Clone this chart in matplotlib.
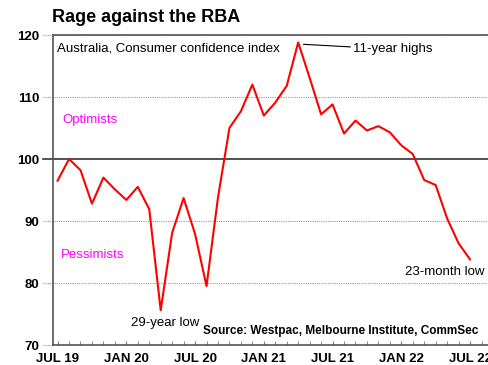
import matplotlib
matplotlib.use("Agg")
import matplotlib.pyplot as plt
from matplotlib.ticker import FixedLocator, MultipleLocator

plt.rcParams['font.family'] = ['Liberation Sans', 'DejaVu Sans']

months = ["JUL 19", "AUG 19", "SEP 19", "OCT 19", "NOV 19", "DEC 19",
          "JAN 20", "FEB 20", "MAR 20", "APR 20", "MAY 20", "JUN 20",
          "JUL 20", "AUG 20", "SEP 20", "OCT 20", "NOV 20", "DEC 20",
          "JAN 21", "FEB 21", "MAR 21", "APR 21", "MAY 21", "JUN 21",
          "JUL 21", "AUG 21", "SEP 21", "OCT 21", "NOV 21", "DEC 21",
          "JAN 22", "FEB 22", "MAR 22", "APR 22", "MAY 22", "JUN 22",
          "JUL 22"]
confidence = [96.5, 100.0, 98.2, 92.8, 97.0, 95.1,
              93.4, 95.5, 91.9, 75.6, 88.1, 93.7,
              87.9, 79.5, 93.8, 105.0, 107.7, 112.0,
              107.0, 109.1, 111.8, 118.8, 113.1, 107.2,
              108.8, 104.1, 106.2, 104.6, 105.3, 104.3,
              102.2, 100.8, 96.6, 95.8, 90.4, 86.4,
              83.8]
y_ticks = [70, 80, 90, 100, 110, 120]

fig = plt.figure(figsize=(4.89, 3.65), dpi=100)
ax = fig.add_axes([53/489, 20/365, 1 - 53/489 + 0.01, 310/365])

x = list(range(len(months)))
ax.plot(x, confidence, color='#ff0000', lw=1.5, zorder=3)

ax.set_xlim(-0.4, 37.7 + 0.01*436/11.45)
ax.set_ylim(70, 120)

for y in y_ticks:
    if y == 100:
        ax.axhline(y, xmin=-0.023, xmax=1, color='#333333', lw=1.2, clip_on=False, zorder=2)
    elif y != 70:
        ax.axhline(y, xmin=-0.023, xmax=1, color='#999999', lw=0.8, ls=(0, (1, 1)),
                   clip_on=False, zorder=1)
    else:
        ax.axhline(y, xmin=-0.023, xmax=0, color='#999999', lw=0.8, ls=(0, (1, 1)),
                   clip_on=False, zorder=1)

ax.set_yticks(y_ticks)
ax.set_yticklabels([str(v) for v in y_ticks], fontsize=9.5, fontweight='bold')
ax.tick_params(axis='y', length=0, pad=10)

major = x[::6]
ax.xaxis.set_major_locator(FixedLocator(major))
ax.xaxis.set_minor_locator(MultipleLocator(1))
ax.set_xticklabels([months[i] for i in major], fontsize=9.5, fontweight='bold')
ax.tick_params(axis='x', which='both', direction='in', length=3, color='#777777', pad=6)

for s in ['left', 'top', 'bottom', 'right']:
    ax.spines[s].set_color('#555555')
    ax.spines[s].set_linewidth(1.2)

fig.text(52/489, 1 - 18/365, "Rage against the RBA", fontsize=13, fontweight='bold',
         va='center', ha='left')

ax.text(-0.06, 117.9, "Australia, Consumer confidence index", fontsize=9.5, va='center', ha='left')
ax.annotate("11-year highs", xy=(21.45, 118.5), xytext=(25.8, 117.7), fontsize=9.5,
            va='center', ha='left',
            arrowprops=dict(arrowstyle='-', color='black', lw=0.8, shrinkA=0, shrinkB=0))
ax.text(0.38, 106.3, "Optimists", color='#ff00ff', fontsize=9.5, va='center', ha='left')
ax.text(0.29, 84.5, "Pessimists", color='#ff00ff', fontsize=9.5, va='center', ha='left')
ax.text(9.37, 73.55, "29-year low", fontsize=9.5, va='center', ha='center')
ax.text(37.3, 81.8, "23-month low", fontsize=9.5, va='center', ha='right')
ax.text(36.7, 72.3, "Source: Westpac, Melbourne Institute, CommSec", fontsize=8.5,
        fontweight='bold', va='center', ha='right')

fig.savefig("out.png", dpi=100)
